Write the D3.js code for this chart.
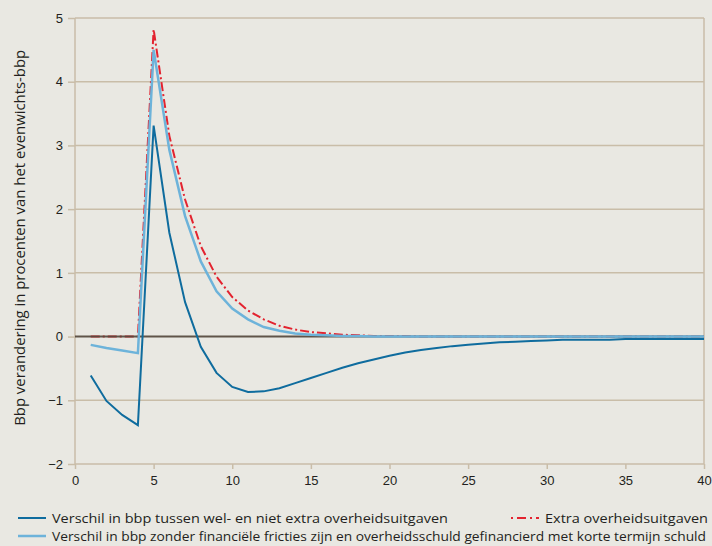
<!DOCTYPE html>
<html>
<head>
<meta charset="utf-8">
<script src="https://cdn.jsdelivr.net/npm/d3@7"></script>
<style>
  body { margin: 0; background: #e9e8e2; }
  svg { display: block; font-family: "Open Sans", sans-serif; }
  .tick text { fill: #231f20; font-size: 13px; }
</style>
</head>
<body>
<svg id="chart" width="712" height="546"></svg>
<script>
// periods 1..40
var periods = d3.range(1, 41);

var darkBlue = [-0.61, -1.01, -1.23, -1.39, 3.31, 1.63, 0.54, -0.16, -0.57, -0.79,
  -0.87, -0.86, -0.81, -0.73, -0.65, -0.57, -0.49, -0.42, -0.36, -0.30,
  -0.25, -0.21, -0.18, -0.15, -0.13, -0.11, -0.09, -0.08, -0.07, -0.06,
  -0.05, -0.05, -0.05, -0.05, -0.04, -0.04, -0.04, -0.04, -0.04, -0.04];

var lightBlue = [-0.13, -0.18, -0.22, -0.26, 4.50, 2.93, 1.89, 1.18, 0.71, 0.44,
  0.27, 0.15, 0.09, 0.05, 0.03, 0.02, 0.01, 0.01, 0, 0,
  0, 0, 0, 0, 0, 0, 0, 0, 0, 0,
  0, 0, 0, 0, 0, 0, 0, 0, 0, 0];

var extra = [0, 0, 0, 0, 4.82, 3.15, 2.15, 1.42, 0.94, 0.62,
  0.41, 0.27, 0.17, 0.11, 0.07, 0.05, 0.03, 0.02, 0.01, 0.01,
  0.01, 0, 0, 0, 0, 0, 0, 0, 0, 0,
  0, 0, 0, 0, 0, 0, 0, 0, 0, 0];

var xTicks = [0, 5, 10, 15, 20, 25, 30, 35, 40];
var yTicks = [-2, -1, 0, 1, 2, 3, 4, 5];

var legendNames = [
  "Verschil in bbp tussen wel- en niet extra overheidsuitgaven",
  "Extra overheidsuitgaven",
  "Verschil in bbp zonder financiële fricties zijn en overheidsschuld gefinancierd met korte termijn schuld"
];
var yTitle = "Bbp verandering in procenten van het evenwichts-bbp";

var svg = d3.select("#chart");
var grid = "#c9bda8";

var x = d3.scaleLinear().domain([0, 40]).range([75, 704]);
var y = d3.scaleLinear().domain([-2, 5]).range([464, 18]);

// horizontal gridlines
svg.append("g").selectAll("line")
  .data(yTicks.filter(function(d) { return d !== 0; }))
  .enter().append("line")
  .attr("x1", x(0)).attr("x2", x(40))
  .attr("y1", function(d) { return y(d); })
  .attr("y2", function(d) { return y(d); })
  .attr("stroke", grid).attr("stroke-width", 1.5);

// frame sides
svg.append("line").attr("x1", x(0)).attr("x2", x(0)).attr("y1", y(5)).attr("y2", y(-2))
  .attr("stroke", grid).attr("stroke-width", 1.5);
svg.append("line").attr("x1", x(40)).attr("x2", x(40)).attr("y1", y(5)).attr("y2", y(-2))
  .attr("stroke", grid).attr("stroke-width", 1.5);

// axes
var yAxis = svg.append("g")
  .attr("transform", "translate(" + x(0) + ",0)")
  .call(d3.axisLeft(y).tickValues(yTicks).tickSize(7).tickPadding(5)
    .tickFormat(function(d) { return d < 0 ? "\u2212" + (-d) : d; }));
yAxis.select(".domain").remove();
yAxis.selectAll(".tick line").attr("stroke", grid).attr("stroke-width", 1.5);

var xAxis = svg.append("g")
  .attr("transform", "translate(0," + y(-2) + ")")
  .call(d3.axisBottom(x).tickValues(xTicks).tickSize(5).tickPadding(7));
xAxis.select(".domain").remove();
xAxis.selectAll(".tick line").attr("stroke", grid).attr("stroke-width", 1.5);

svg.append("text")
  .attr("transform", "translate(25," + y(1.55) + ") rotate(-90)")
  .attr("text-anchor", "middle")
  .attr("fill", "#231f20")
  .attr("textLength", 376)
  .attr("lengthAdjust", "spacingAndGlyphs")
  .style("font-size", "14px")
  .text(yTitle);

var line = d3.line()
  .x(function(d, i) { return x(periods[i]); })
  .y(function(d) { return y(d); });

// red dash-dot
svg.append("path").datum(extra)
  .attr("d", line).attr("fill", "none")
  .attr("stroke", "#e3232f").attr("stroke-width", 2)
  .attr("stroke-dasharray", "9,3,2,3");

// zero line
svg.append("line").attr("x1", x(0)).attr("x2", x(40)).attr("y1", y(0)).attr("y2", y(0))
  .attr("stroke", "#55483d").attr("stroke-width", 2).attr("opacity", 0.92);

svg.append("path").datum(lightBlue)
  .attr("d", line).attr("fill", "none")
  .attr("stroke", "#6db3da").attr("stroke-width", 2.5);

svg.append("path").datum(darkBlue)
  .attr("d", line).attr("fill", "none")
  .attr("stroke", "#0f6c9e").attr("stroke-width", 2);

// legend
var legend = [
  {name: legendNames[0], color: "#0f6c9e", dash: null, x: 18, y: 518, w: 2, len: 396},
  {name: legendNames[1], color: "#e3232f", dash: "2,4,9,4", x: 511, y: 518, w: 2, len: 163},
  {name: legendNames[2], color: "#6db3da", dash: null, x: 18, y: 536, w: 2.5, len: 654}
];
var lg = svg.append("g").selectAll("g").data(legend).enter().append("g");
lg.append("line")
  .attr("x1", function(d) { return d.x; })
  .attr("x2", function(d) { return d.x + 28; })
  .attr("y1", function(d) { return d.y; })
  .attr("y2", function(d) { return d.y; })
  .attr("stroke", function(d) { return d.color; })
  .attr("stroke-width", function(d) { return d.w; })
  .attr("stroke-dasharray", function(d) { return d.dash; });
lg.append("text")
  .attr("x", function(d) { return d.x + 34; })
  .attr("y", function(d) { return d.y + 4.5; })
  .attr("fill", "#231f20")
  .attr("textLength", function(d) { return d.len; })
  .attr("lengthAdjust", "spacingAndGlyphs")
  .style("font-size", "13.5px")
  .text(function(d) { return d.name; });
</script>
</body>
</html>
